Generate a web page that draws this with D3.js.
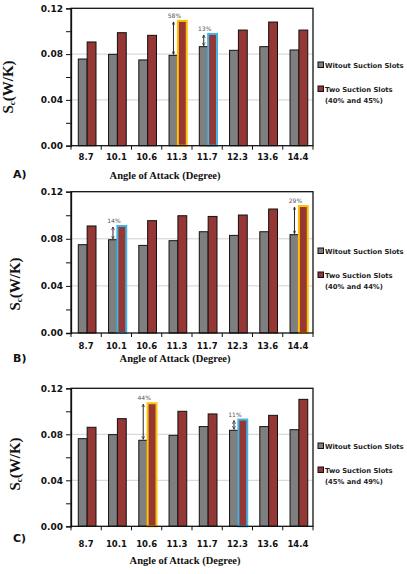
<!DOCTYPE html>
<html>
<head>
<meta charset="utf-8">
<script src="https://cdn.jsdelivr.net/npm/d3@7"></script>
<style>
  body { margin: 0; background: #fff; }
  svg { display: block; }
</style>
</head>
<body>
<div id="chart"></div>
<script>
// values
const angles = ['8.7', '10.1', '10.6', '11.3', '11.7', '12.3', '13.6', '14.4'];

const withoutA = [0.0757, 0.0798, 0.0749, 0.0789, 0.0865, 0.0833, 0.0865, 0.0836];
const twoA = [0.0906, 0.0987, 0.0964, 0.1090, 0.0976, 0.1010, 0.1080, 0.1010];

const withoutB = [0.0750, 0.0792, 0.0744, 0.0784, 0.0860, 0.0829, 0.0860, 0.0835];
const twoB = [0.0909, 0.0909, 0.0954, 0.0996, 0.0990, 0.1002, 0.1053, 0.1078];

const withoutC = [0.0762, 0.0797, 0.0748, 0.0791, 0.0867, 0.0835, 0.0867, 0.0840];
const twoC = [0.0861, 0.0936, 0.1070, 0.1000, 0.0977, 0.0928, 0.0965, 0.1104];

const seriesNames = ['Witout Suction Slots', 'Two Suction Slots'];
const slotsA = '(40% and 45%)';
const slotsB = '(40% and 44%)';
const slotsC = '(45% and 49%)';

// highlighted pairs: [category, label, kind]
const marksA = [['11.3', '58%', 'max'], ['11.7', '13%', 'min']];
const marksB = [['10.1', '14%', 'min'], ['14.4', '29%', 'max']];
const marksC = [['10.6', '44%', 'max'], ['12.3', '11%', 'min']];

const yTicks = [0, 0.02, 0.04, 0.06, 0.08, 0.10, 0.12];

const width = 407, height = 574;
const svg = d3.select('#chart').append('svg')
    .attr('width', width)
    .attr('height', height);

const defs = svg.append('defs');
defs.append('marker')
    .attr('id', 'arr')
    .attr('viewBox', '0 -5 10 10')
    .attr('refX', 9)
    .attr('refY', 0)
    .attr('markerWidth', 4)
    .attr('markerHeight', 4)
    .attr('orient', 'auto-start-reverse')
    .append('path')
    .attr('d', 'M0,-4.5L9,0L0,4.5')
    .attr('fill', 'none')
    .attr('stroke', '#111')
    .attr('stroke-width', 1.6);

const colors = { w: '#7f7f7f', t: '#953735' };
const markColors = { max: '#ffc000', min: '#40b4e4' };

const panels = [
    { letter: 'A)', without: withoutA, two: twoA, slots: slotsA, marks: marksA,
      top: 8.3, bottom: 145.7, tickY: 160, titleX: 165, titleY: 179, letterY: 178,
      labX: 13, labY: 87, legY: 65 },
    { letter: 'B)', without: withoutB, two: twoB, slots: slotsB, marks: marksB,
      top: 191.7, bottom: 333, tickY: 349, titleX: 175, titleY: 362, letterY: 362,
      labX: 20, labY: 284, legY: 251 },
    { letter: 'C)', without: withoutC, two: twoC, slots: slotsC, marks: marksC,
      top: 388.3, bottom: 526.3, tickY: 547, titleX: 185, titleY: 564, letterY: 542,
      labX: 20, labY: 464, legY: 446 }
];

const left = 71, right = 313;

panels.forEach(p => drawPanel(p));

function drawPanel(p) {
    const g = svg.append('g');
    const x0 = d3.scaleBand().domain(angles).range([left, right]);
    const x1 = d3.scaleBand().domain(['w', 't']).range([7.3, 25]);
    const y = d3.scaleLinear().domain([0, 0.12]).range([p.bottom, p.top]);

    // grid
    g.append('g').selectAll('line')
        .data([0.04, 0.08])
        .enter().append('line')
        .attr('x1', left).attr('x2', right)
        .attr('y1', d => y(d)).attr('y2', d => y(d))
        .attr('stroke', '#d0d0d0')
        .attr('stroke-width', 1);

    const rows = angles.map((a, i) => ({ a: a, w: p.without[i], t: p.two[i] }));
    const markMap = new Map(p.marks.map(m => [m[0], m]));

    const grp = g.append('g').selectAll('g')
        .data(rows)
        .enter().append('g')
        .attr('transform', d => `translate(${x0(d.a)},0)`);

    grp.selectAll('rect')
        .data(d => ['w', 't'].map(k => ({ k: k, v: d[k], a: d.a })))
        .enter().append('rect')
        .attr('x', d => x1(d.k))
        .attr('y', d => y(d.v))
        .attr('width', x1.bandwidth())
        .attr('height', d => y(0) - y(d.v))
        .attr('fill', d => colors[d.k])
        .attr('stroke', d => (d.k === 't' && markMap.has(d.a)) ? markColors[markMap.get(d.a)[2]] : '#111')
        .attr('stroke-width', d => (d.k === 't' && markMap.has(d.a)) ? 2 : 1);

    // plot frame
    g.append('rect')
        .attr('x', left).attr('y', p.top)
        .attr('width', right - left).attr('height', p.bottom - p.top)
        .attr('fill', 'none')
        .attr('stroke', '#111')
        .attr('stroke-width', 1.3);

    // y axis
    const yAxis = d3.axisLeft(y)
        .tickValues(yTicks)
        .tickSize(5)
        .tickPadding(3)
        .tickFormat(d => (Math.round(d * 100) % 4 === 0) ? d3.format('.2f')(d) : '');
    const ya = g.append('g')
        .attr('transform', `translate(${left},0)`)
        .call(yAxis);
    ya.select('.domain').attr('stroke', '#111').attr('stroke-width', 1.3);
    ya.selectAll('.tick line').attr('stroke', '#111');
    ya.selectAll('.tick text')
        .attr('font-family', 'DejaVu Sans')
        .attr('font-weight', 'bold')
        .attr('font-size', 9)
        .attr('fill', '#111');

    // x axis ticks at band edges
    const edges = angles.map(a => x0(a)).concat([right]);
    g.append('g').selectAll('line')
        .data(edges)
        .enter().append('line')
        .attr('x1', d => d).attr('x2', d => d)
        .attr('y1', p.bottom).attr('y2', p.bottom + 4)
        .attr('stroke', '#111')
        .attr('stroke-width', 1);

    g.append('g').selectAll('text')
        .data(angles)
        .enter().append('text')
        .attr('x', d => x0(d) + x0.bandwidth() / 2)
        .attr('y', p.tickY)
        .attr('text-anchor', 'middle')
        .attr('font-family', 'DejaVu Sans')
        .attr('font-weight', 'bold')
        .attr('font-size', 8.5)
        .attr('fill', '#111')
        .text(d => d);

    // annotations
    p.marks.forEach(m => {
        const i = angles.indexOf(m[0]);
        const ax = x0(m[0]) + x1('w') + x1.bandwidth() / 2;
        const yTop = y(p.two[i]) + 1;
        const yBot = y(p.without[i]) - 1;
        g.append('line')
            .attr('x1', ax).attr('x2', ax)
            .attr('y1', yBot).attr('y2', yTop)
            .attr('stroke', '#111')
            .attr('stroke-width', 0.9)
            .attr('marker-start', 'url(#arr)')
            .attr('marker-end', 'url(#arr)');
        g.append('text')
            .attr('x', ax + 1)
            .attr('y', yTop - 4)
            .attr('text-anchor', 'middle')
            .attr('font-family', 'DejaVu Sans')
            .attr('font-size', 6)
            .attr('fill', '#555')
            .text(m[1]);
    });

    // axis titles
    const yl = g.append('text')
        .attr('transform', `translate(${p.labX},${p.labY}) rotate(-90)`)
        .attr('text-anchor', 'middle')
        .attr('font-family', 'Liberation Serif')
        .attr('font-weight', 'bold')
        .attr('font-size', 15)
        .attr('fill', '#111');
    yl.append('tspan').text('S');
    yl.append('tspan').attr('font-size', 9).attr('dy', 2).text('c');
    yl.append('tspan').attr('dy', -2).text('(W/K)');

    g.append('text')
        .attr('x', p.titleX)
        .attr('y', p.titleY)
        .attr('text-anchor', 'middle')
        .attr('font-family', 'Liberation Serif')
        .attr('font-weight', 'bold')
        .attr('font-size', 10.5)
        .attr('fill', '#111')
        .text('Angle of Attack (Degree)');

    g.append('text')
        .attr('x', 13)
        .attr('y', p.letterY)
        .attr('font-family', 'DejaVu Sans')
        .attr('font-weight', 'bold')
        .attr('font-size', 11)
        .attr('fill', '#111')
        .text(p.letter);

    // legend
    const legRows = [[seriesNames[0]], [seriesNames[1], p.slots]];
    legRows.forEach((r, j) => {
        const ly = p.legY + j * 24;
        g.append('rect')
            .attr('x', 318).attr('y', ly - 3)
            .attr('width', 5.5).attr('height', 5.5)
            .attr('fill', colors[j === 0 ? 'w' : 't'])
            .attr('stroke', '#111')
            .attr('stroke-width', 1);
        r.forEach((t, k) => {
            g.append('text')
                .attr('x', 325)
                .attr('y', ly + 3 + k * 11)
                .attr('font-family', 'DejaVu Sans')
                .attr('font-weight', 'bold')
                .attr('font-size', 6.8)
                .attr('fill', '#222')
                .text(t);
        });
    });
}
</script>
</body>
</html>
